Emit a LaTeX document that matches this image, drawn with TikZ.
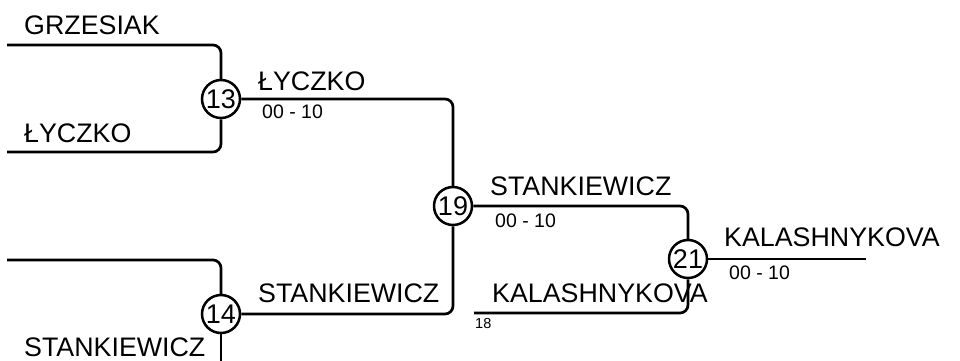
\documentclass[tikz,border=0pt]{standalone}
\usepackage{fontspec}
\setmainfont{Liberation Sans}
\begin{document}
\begin{tikzpicture}[x=1pt,y=-1pt,
  wire/.style={line width=2.7pt,rounded corners=8pt},
  matchc/.style={circle,draw,line width=2.5pt,minimum size=38pt,inner sep=0pt,font=\fontsize{27}{27}\selectfont},
  player/.style={anchor=base west,inner sep=0pt,font=\fontsize{26.8}{26.8}\selectfont},
  scorelbl/.style={anchor=base west,inner sep=0pt,font=\fontsize{19.5}{19.5}\selectfont},
  smalllbl/.style={anchor=base west,inner sep=0pt,font=\fontsize{14.5}{14.5}\selectfont}]
\useasboundingbox (0,0) rectangle (960,361);
% matches
\node[matchc] (c13) at (221,99) {13};
\node[matchc] (c14) at (221,314) {14};
\node[matchc] (c19) at (453,206) {19};
\node[matchc] (c21) at (688,259) {21};
% free ends
\coordinate (g) at (7,45);
\coordinate (l) at (7,152);
\coordinate (t) at (7,260);
\coordinate (s) at (221,365);
\coordinate (k) at (474,313);
\coordinate (e) at (866,259);
% wires
\draw[wire] (g) -| (c13);
\draw[wire] (l) -| (c13);
\draw[wire] (t) -| (c14);
\draw[wire] (s) -- (c14);
\draw[wire] (c13) -| (c19);
\draw[wire] (c14) -| (c19);
\draw[wire] (c19) -| (c21);
\draw[wire] (k) -| (c21);
\draw[wire] (c21) -- (e);
% labels
\node[player] (n1) at (24,35) {GRZESIAK};
\node[player] (n2) at (24,142) {ŁYCZKO};
\node[player] (n3) at (24,356) {STANKIEWICZ};
\node[player] (n4) at (258,90) {ŁYCZKO};
\node[scorelbl] (s1) at (262,118) {00 - 10};
\node[player] (n5) at (258,302) {STANKIEWICZ};
\node[player] (n6) at (490,195) {STANKIEWICZ};
\node[scorelbl] (s2) at (495,227) {00 - 10};
\node[player] (n7) at (724,246) {KALASHNYKOVA};
\node[scorelbl] (s3) at (729,279) {00 - 10};
\node[player] (n8) at (492,302) {KALASHNYKOVA};
\node[smalllbl] (n9) at (475,328) {18};
\end{tikzpicture}
\end{document}
